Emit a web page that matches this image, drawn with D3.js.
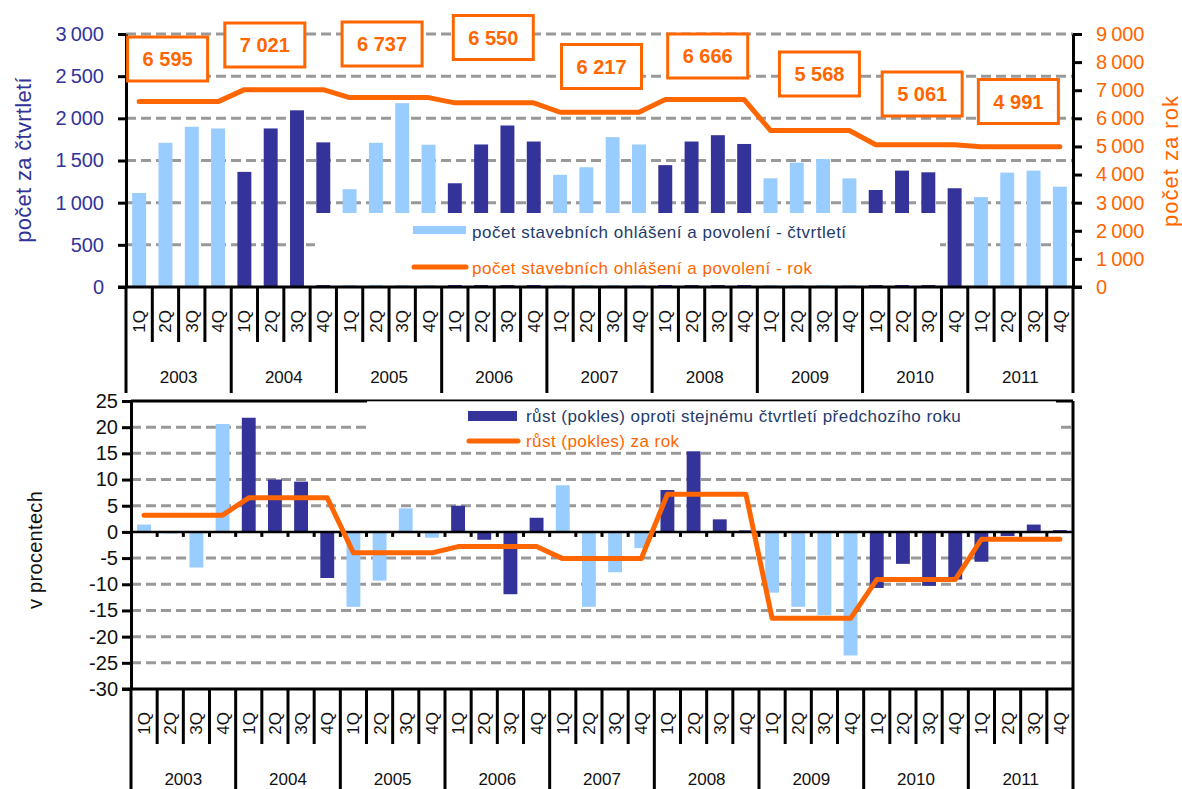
<!DOCTYPE html>
<html>
<head>
<meta charset="utf-8">
<script src="https://cdn.jsdelivr.net/npm/d3@7"></script>
<style>
  body { margin: 0; background: #fff; }
  text { font-family: "Liberation Sans", Arial, sans-serif; }
</style>
</head>
<body>
<svg id="chart" width="1182" height="789"></svg>
<script>
// Data
var years = ["2003", "2004", "2005", "2006", "2007", "2008", "2009", "2010", "2011"];
var quarters = ["1Q", "2Q", "3Q", "4Q"];

// počet stavebních ohlášení a povolení - čtvrtletí
var quarterly = [
    1115, 1710, 1900, 1880,
    1365, 1880, 2095, 1715,
    1160, 1710, 2180, 1687,
    1230, 1690, 1915, 1725,
    1330, 1420, 1777, 1690,
    1445, 1725, 1800, 1696,
    1289, 1474, 1517, 1288,
    1150, 1380, 1360, 1171,
    1066, 1356, 1380, 1189
];
// počet stavebních ohlášení a povolení - rok
var annual = [6595, 7021, 6737, 6550, 6217, 6666, 5568, 5061, 4991];

// růst (pokles) oproti stejnému čtvrtletí předchozího roku
var growthQ = [
    1.4, -0.3, -6.8, 20.6,
    21.8, 10.0, 9.6, -8.8,
    -14.3, -9.3, 4.5, -1.1,
    5.0, -1.5, -11.9, 2.7,
    8.9, -14.3, -7.7, -3.1,
    8.0, 15.5, 2.4, 0.3,
    -11.6, -14.3, -15.9, -23.6,
    -10.7, -6.1, -10.3, -9.1,
    -5.7, -0.8, 1.4, 0.35
];
// růst (pokles) za rok
var growthY = [3.2, 6.5, -4.0, -2.8, -5.1, 7.2, -16.5, -9.1, -1.4];

var leftTicks = [0, 500, 1000, 1500, 2000, 2500, 3000];
var rightTicks = [0, 1000, 2000, 3000, 4000, 5000, 6000, 7000, 8000, 9000];
var growthTicks = [25, 20, 15, 10, 5, 0, -5, -10, -15, -20, -25, -30];

// Styles / layout
var LIGHT = "#99CCFF", DARK = "#333399", ORANGE = "#FF6600", GRID = "#999999", NAVY = "#1F3B6A";
var topColors = [LIGHT, DARK, LIGHT, DARK, LIGHT, DARK, LIGHT, DARK, LIGHT];
var botColors = [LIGHT, DARK, LIGHT, DARK, LIGHT, DARK, LIGHT, DARK, DARK];
// annual label boxes: [dx from year centre, centre y]
var boxPos = [[-11, 59], [-19, 45], [-7, 44], [-1, 37.5], [2, 66.5], [3, 56], [9.5, 74], [7, 94], [-2, 101.5]];

var locale = d3.formatLocale({ decimal: ",", thousands: "\u2009", grouping: [3], currency: ["", ""] });
var fmtTick = locale.format(",d");
var fmtBox = d3.formatLocale({ decimal: ",", thousands: "\u00a0", grouping: [3], currency: ["", ""] }).format(",d");

var keys = [];
years.forEach(function(y) { quarters.forEach(function(q) { keys.push(y + "-" + q); }); });

var svg = d3.select("#chart");
svg.append("rect").attr("width", 1182).attr("height", 789).attr("fill", "#fff");

// ---------- shared category axis (quarters + years) ----------
function catAxis(g, x, y0) {
    var x0 = x.range()[0], step = x.step();
    d3.range(keys.length + 1).forEach(function(i) {
        g.append("line")
            .attr("x1", x0 + i * step).attr("x2", x0 + i * step)
            .attr("y1", y0).attr("y2", y0 + (i % 4 === 0 ? 106 : 55))
            .attr("stroke", "#000").attr("stroke-width", 3);
    });
    keys.forEach(function(k) {
        var cx = x(k) + x.bandwidth() / 2 + 6;
        g.append("text")
            .attr("transform", "translate(" + cx + "," + (y0 + 23) + ") rotate(-90)")
            .attr("text-anchor", "end")
            .attr("font-size", 17)
            .attr("fill", "#111")
            .text(k.split("-")[1]);
    });
    years.forEach(function(yr, i) {
        g.append("text")
            .attr("x", x0 + (i * 4 + 2) * step)
            .attr("y", y0 + 96)
            .attr("text-anchor", "middle")
            .attr("font-size", 17)
            .attr("fill", "#111")
            .text(yr);
    });
}

function styleAxis(g, color, size) {
    g.select(".domain").attr("stroke", "#000").attr("stroke-width", 3);
    g.selectAll(".tick line").attr("stroke", "#000").attr("stroke-width", 3);
    g.selectAll(".tick text").attr("fill", color).attr("font-size", size)
        .attr("font-family", "'Liberation Sans', Arial, sans-serif");
}

// ================= TOP PANEL =================
var xT = d3.scaleBand().domain(keys).range([126, 1073]).paddingInner(0.47).paddingOuter(0.235);
var yL = d3.scaleLinear().domain([0, 3000]).range([287, 34]);
var yR = d3.scaleLinear().domain([0, 9000]).range([287, 34]);

var topG = svg.append("g");

topG.append("g").selectAll("line")
    .data(leftTicks.filter(function(d) { return d > 0; }))
    .enter().append("line")
    .attr("x1", 126).attr("x2", 1073)
    .attr("y1", function(d) { return yL(d); }).attr("y2", function(d) { return yL(d); })
    .attr("stroke", GRID).attr("stroke-width", 3).attr("stroke-dasharray", "10,5");

topG.append("g").selectAll("rect")
    .data(quarterly)
    .enter().append("rect")
    .attr("x", function(d, i) { return xT(keys[i]); })
    .attr("width", xT.bandwidth())
    .attr("y", function(d) { return yL(d); })
    .attr("height", function(d) { return yL(0) - yL(d); })
    .attr("fill", function(d, i) { return topColors[Math.floor(i / 4)]; });

// legend box (covers the bars behind it, as in the original)
var lgT = topG.append("g");
lgT.append("rect").attr("x", 315).attr("y", 213).attr("width", 625).attr("height", 72).attr("fill", "#fff");
lgT.append("rect").attr("x", 413).attr("y", 226).attr("width", 53).attr("height", 8).attr("fill", LIGHT);
lgT.append("text").attr("x", 472).attr("y", 238).attr("font-size", 17).attr("letter-spacing", 0.5).attr("fill", NAVY)
    .text("počet stavebních ohlášení a povolení - čtvrtletí");
lgT.append("line").attr("x1", 414).attr("x2", 466).attr("y1", 267).attr("y2", 267)
    .attr("stroke", ORANGE).attr("stroke-width", 5).attr("stroke-linecap", "round");
lgT.append("text").attr("x", 472).attr("y", 274).attr("font-size", 17).attr("letter-spacing", 0.5).attr("fill", ORANGE)
    .text("počet stavebních ohlášení a povolení - rok");

var annualQ = keys.map(function(k, i) { return annual[Math.floor(i / 4)]; });
topG.append("path")
    .datum(annualQ)
    .attr("fill", "none").attr("stroke", ORANGE).attr("stroke-width", 5)
    .attr("stroke-linecap", "round").attr("stroke-linejoin", "round")
    .attr("d", d3.line()
        .x(function(d, i) { return xT(keys[i]) + xT.bandwidth() / 2; })
        .y(function(d) { return yR(d); }));

var axL = topG.append("g").attr("transform", "translate(126,0)")
    .call(d3.axisLeft(yL).tickValues(leftTicks).tickSize(8).tickSizeOuter(0).tickPadding(14).tickFormat(fmtTick));
styleAxis(axL, DARK, 20);
var axR = topG.append("g").attr("transform", "translate(1073,0)")
    .call(d3.axisRight(yR).tickValues(rightTicks).tickSize(9).tickSizeOuter(0).tickPadding(14).tickFormat(fmtTick));
styleAxis(axR, ORANGE, 20);

topG.append("line").attr("x1", 118).attr("x2", 1082).attr("y1", 287).attr("y2", 287)
    .attr("stroke", "#000").attr("stroke-width", 3);
catAxis(topG.append("g"), xT, 287);

// annual value boxes
var step = xT.step();
annual.forEach(function(v, i) {
    var cx = 126 + (i * 4 + 2) * step + boxPos[i][0], cy = boxPos[i][1];
    topG.append("rect").attr("x", cx - 40).attr("y", cy - 22).attr("width", 80).attr("height", 44)
        .attr("fill", "#fff").attr("stroke", ORANGE).attr("stroke-width", 3);
    topG.append("text").attr("x", cx).attr("y", cy + 7).attr("text-anchor", "middle")
        .attr("font-size", 20).attr("font-weight", "bold").attr("fill", ORANGE)
        .text(fmtBox(v));
});

topG.append("text")
    .attr("transform", "translate(31,160) rotate(-90)")
    .attr("text-anchor", "middle").attr("font-size", 22).attr("letter-spacing", 0.3).attr("fill", DARK)
    .text("počet za čtvrtletí");
topG.append("text")
    .attr("transform", "translate(1178,161) rotate(-90)")
    .attr("text-anchor", "middle").attr("font-size", 22).attr("letter-spacing", 1).attr("fill", ORANGE)
    .text("počet za rok");

// ================= BOTTOM PANEL =================
var xB = d3.scaleBand().domain(keys).range([131, 1073]).paddingInner(0.47).paddingOuter(0.235);
var yG = d3.scaleLinear().domain([-30, 25]).range([689, 401]);

var botG = svg.append("g");

botG.append("g").selectAll("line")
    .data(growthTicks.filter(function(d) { return d !== 0 && d !== 25 && d !== -30; }))
    .enter().append("line")
    .attr("x1", 131).attr("x2", 1073)
    .attr("y1", function(d) { return yG(d); }).attr("y2", function(d) { return yG(d); })
    .attr("stroke", GRID).attr("stroke-width", 3).attr("stroke-dasharray", "10,5");

botG.append("g").selectAll("rect")
    .data(growthQ)
    .enter().append("rect")
    .attr("x", function(d, i) { return xB(keys[i]); })
    .attr("width", xB.bandwidth())
    .attr("y", function(d) { return yG(Math.max(0, d)); })
    .attr("height", function(d) { return Math.abs(yG(d) - yG(0)); })
    .attr("fill", function(d, i) { return botColors[Math.floor(i / 4)]; });

// zero line with small ticks
botG.append("line").attr("x1", 131).attr("x2", 1073).attr("y1", yG(0)).attr("y2", yG(0))
    .attr("stroke", "#000").attr("stroke-width", 2.5);
d3.range(1, keys.length).forEach(function(i) {
    var xx = 131 + i * xB.step();
    botG.append("line").attr("x1", xx).attr("x2", xx).attr("y1", yG(0)).attr("y2", yG(0) + 5)
        .attr("stroke", "#000").attr("stroke-width", 3);
});

// plot border
botG.append("line").attr("x1", 131).attr("x2", 1073).attr("y1", 401).attr("y2", 401).attr("stroke", "#000").attr("stroke-width", 3);
botG.append("line").attr("x1", 1073).attr("x2", 1073).attr("y1", 401).attr("y2", 689).attr("stroke", "#000").attr("stroke-width", 3);

// legend
var lgB = botG.append("g");
lgB.append("rect").attr("x", 367).attr("y", 401.3).attr("width", 689).attr("height", 50).attr("fill", "#fff");
lgB.append("rect").attr("x", 468).attr("y", 411).attr("width", 49).attr("height", 10).attr("fill", DARK);
lgB.append("text").attr("x", 526).attr("y", 422).attr("font-size", 17).attr("letter-spacing", 0.45).attr("fill", NAVY)
    .text("růst (pokles) oproti stejnému čtvrtletí předchozího roku");
lgB.append("line").attr("x1", 469).attr("x2", 518).attr("y1", 441).attr("y2", 441)
    .attr("stroke", ORANGE).attr("stroke-width", 5).attr("stroke-linecap", "round");
lgB.append("text").attr("x", 526).attr("y", 447).attr("font-size", 17).attr("letter-spacing", 0.45).attr("fill", ORANGE)
    .text("růst (pokles) za rok");

var growthYQ = keys.map(function(k, i) { return growthY[Math.floor(i / 4)]; });
botG.append("path")
    .datum(growthYQ)
    .attr("fill", "none").attr("stroke", ORANGE).attr("stroke-width", 5)
    .attr("stroke-linecap", "round").attr("stroke-linejoin", "round")
    .attr("d", d3.line()
        .x(function(d, i) { return xB(keys[i]) + xB.bandwidth() / 2; })
        .y(function(d) { return yG(d); }));

var axG = botG.append("g").attr("transform", "translate(131,0)")
    .call(d3.axisLeft(yG).tickValues(growthTicks).tickSize(9).tickSizeOuter(0).tickPadding(4)
        .tickFormat(function(d) { return String(d); }));
styleAxis(axG, "#111", 20);

botG.append("line").attr("x1", 122).attr("x2", 1073).attr("y1", 689).attr("y2", 689)
    .attr("stroke", "#000").attr("stroke-width", 3);
catAxis(botG.append("g"), xB, 689);

botG.append("text")
    .attr("transform", "translate(42,550) rotate(-90)")
    .attr("text-anchor", "middle").attr("font-size", 20).attr("letter-spacing", 0.3).attr("fill", "#111")
    .text("v procentech");
</script>
</body>
</html>
